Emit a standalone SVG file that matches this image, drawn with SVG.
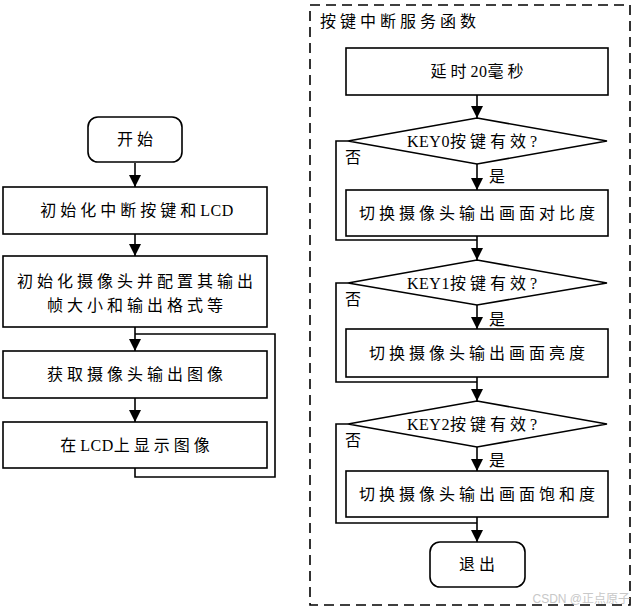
<svg xmlns="http://www.w3.org/2000/svg" width="636" height="611" viewBox="0 0 636 611">
<style>
.box{fill:#fff;stroke:#000;stroke-width:1.6}
.ln{fill:none;stroke:#000;stroke-width:1.6}
.t{font-family:"Liberation Serif","Noto Sans CJK SC",serif;font-size:16px;fill:#000;letter-spacing:4px;text-anchor:middle;dominant-baseline:central}
.l{font-family:"Liberation Serif","Noto Sans CJK SC",serif;font-size:16px;fill:#000;dominant-baseline:central}
.la{letter-spacing:0.5px}
</style>
<defs>
<marker id="a" markerUnits="userSpaceOnUse" markerWidth="12" markerHeight="12" refX="12" refY="6" orient="auto" viewBox="0 0 12 12">
<path d="M0,0 L12,6 L0,12 Z" fill="#000"/>
</marker>
</defs>
<rect x="0" y="0" width="636" height="611" fill="#fff"/>
<g id="frame">
<rect x="310" y="5" width="320" height="600" fill="none" stroke="#000" stroke-width="1.6" stroke-dasharray="10,6"/>
<text class="t" x="320" y="21" style="text-anchor:start">按键中断服务函数</text>
</g>
<g id="connectors">
<line class="ln" x1="135" y1="163" x2="135" y2="187" marker-end="url(#a)"/>
<line class="ln" x1="135" y1="234" x2="135" y2="256" marker-end="url(#a)"/>
<line class="ln" x1="135" y1="327" x2="135" y2="351" marker-end="url(#a)"/>
<line class="ln" x1="135" y1="398" x2="135" y2="422" marker-end="url(#a)"/>
<polyline class="ln" points="135,468 135,477 275,477 275,334 135,334"/>
<line class="ln" x1="477" y1="95" x2="477" y2="118" marker-end="url(#a)"/>
<line class="ln" x1="477" y1="164" x2="477" y2="190" marker-end="url(#a)"/>
<polyline class="ln" points="348,141 336,141 336,240 477,240"/>
<line class="ln" x1="477" y1="236" x2="477" y2="260" marker-end="url(#a)"/>
<line class="ln" x1="477" y1="305" x2="477" y2="329" marker-end="url(#a)"/>
<polyline class="ln" points="348,283 336,283 336,382 477,382"/>
<line class="ln" x1="477" y1="377" x2="477" y2="401" marker-end="url(#a)"/>
<line class="ln" x1="477" y1="447" x2="477" y2="471" marker-end="url(#a)"/>
<polyline class="ln" points="348,424 336,424 336,523 477,523"/>
<line class="ln" x1="477" y1="517" x2="477" y2="542" marker-end="url(#a)"/>
<text class="l" x="345" y="157">否</text>
<text class="l" x="489" y="176">是</text>
<text class="l" x="345" y="299">否</text>
<text class="l" x="489" y="319">是</text>
<text class="l" x="345" y="440">否</text>
<text class="l" x="489" y="460">是</text>
</g>
<g id="start">
<rect class="box" x="88" y="117" width="94" height="45" rx="10"/>
<text class="t" x="137" y="139">开始</text>
</g>
<g id="init1">
<rect class="box" x="3" y="187" width="264" height="47"/>
<text class="t" x="137" y="210">初始化中断按键和<tspan class="la">LCD</tspan></text>
</g>
<g id="init2">
<rect class="box" x="3" y="256" width="264" height="71"/>
<text class="t" x="137" y="281">初始化摄像头并配置其输出</text>
<text class="t" x="137" y="305">帧大小和输出格式等</text>
</g>
<g id="get">
<rect class="box" x="3" y="351" width="264" height="47"/>
<text class="t" x="137" y="374">获取摄像头输出图像</text>
</g>
<g id="show">
<rect class="box" x="3" y="422" width="264" height="46"/>
<text class="t" x="137" y="445">在<tspan class="la">LCD</tspan>上显示图像</text>
</g>
<g id="delay">
<rect class="box" x="346" y="48" width="262" height="47"/>
<text class="t" x="479" y="71">延时<tspan class="la">20</tspan>毫秒</text>
</g>
<g id="key0">
<polygon class="box" points="477,118 607,141 477,164 348,141"/>
<text class="t" x="474" y="141"><tspan class="la">KEY0</tspan>按键有效?</text>
</g>
<g id="contrast">
<rect class="box" x="346" y="190" width="262" height="46"/>
<text class="t" x="479" y="213">切换摄像头输出画面对比度</text>
</g>
<g id="key1">
<polygon class="box" points="477,260 607,283 477,305 348,283"/>
<text class="t" x="474" y="283"><tspan class="la">KEY1</tspan>按键有效?</text>
</g>
<g id="bright">
<rect class="box" x="346" y="329" width="262" height="48"/>
<text class="t" x="479" y="353">切换摄像头输出画面亮度</text>
</g>
<g id="key2">
<polygon class="box" points="477,401 607,424 477,447 348,424"/>
<text class="t" x="474" y="424"><tspan class="la">KEY2</tspan>按键有效?</text>
</g>
<g id="sat">
<rect class="box" x="346" y="471" width="262" height="46"/>
<text class="t" x="479" y="494">切换摄像头输出画面饱和度</text>
</g>
<g id="exit">
<rect class="box" x="430" y="542" width="95" height="45" rx="10"/>
<text class="t" x="479" y="564">退出</text>
</g>
<text x="630" y="599" style="font-family:'Liberation Sans','Noto Sans CJK SC',sans-serif;font-size:12px;fill:#c8c8c8;text-anchor:end;dominant-baseline:central">CSDN @正点原子</text>
</svg>
